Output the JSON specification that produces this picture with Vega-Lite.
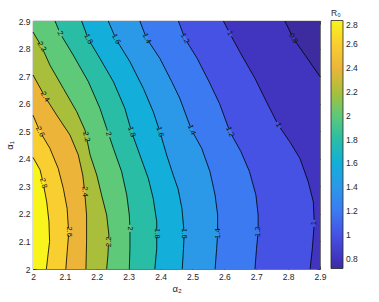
{
  "$schema": "https://vega.github.io/schema/vega-lite/v6.json",
  "width": 287,
  "height": 248,
  "autosize": {"type": "none"},
  "padding": {"left": 33, "top": 21, "right": 59, "bottom": 33},
  "background": "white",
  "config": {
    "font": "Liberation Sans",
    "view": {"stroke": "#262626", "strokeWidth": 0.8},
    "axis": {
      "labelFont": "Liberation Sans", "labelFontSize": 8.5, "labelColor": "#262626",
      "tickColor": "#262626", "tickSize": -3, "tickWidth": 0.7, "labelPadding": 6,
      "domain": false, "grid": false, "labelFlush": false, "labelOverlap": false, "labelBound": false,
      "titleFont": "Liberation Sans", "titleFontSize": 9.5, "titleFontWeight": "normal", "titleColor": "#262626"
    }
  },
  "datasets": {
    "contours": [
      {"level": 0.716, "a2": 2.9, "a1": 2.0, "edge": 1},
      {"level": 0.716, "a2": 2.9, "a1": 2.9, "edge": 1},
      {"level": 0.8, "a2": 2.9, "a1": 2.0, "edge": 1},
      {"level": 0.8, "a2": 2.9, "a1": 2.698},
      {"level": 0.8, "a2": 2.853, "a1": 2.7765},
      {"level": 0.8, "a2": 2.816, "a1": 2.837},
      {"level": 0.8, "a2": 2.79, "a1": 2.9},
      {"level": 1.0, "a2": 2.869, "a1": 2.0},
      {"level": 1.0, "a2": 2.876, "a1": 2.075},
      {"level": 1.0, "a2": 2.882, "a1": 2.166},
      {"level": 1.0, "a2": 2.879, "a1": 2.244},
      {"level": 1.0, "a2": 2.863, "a1": 2.317},
      {"level": 1.0, "a2": 2.837, "a1": 2.4015},
      {"level": 1.0, "a2": 2.805, "a1": 2.462},
      {"level": 1.0, "a2": 2.769, "a1": 2.5225},
      {"level": 1.0, "a2": 2.732, "a1": 2.607},
      {"level": 1.0, "a2": 2.696, "a1": 2.692},
      {"level": 1.0, "a2": 2.654, "a1": 2.7765},
      {"level": 1.0, "a2": 2.617, "a1": 2.855},
      {"level": 1.0, "a2": 2.597, "a1": 2.9},
      {"level": 1.2, "a2": 2.696, "a1": 2.0},
      {"level": 1.2, "a2": 2.701, "a1": 2.075},
      {"level": 1.2, "a2": 2.706, "a1": 2.1355},
      {"level": 1.2, "a2": 2.706, "a1": 2.196},
      {"level": 1.2, "a2": 2.699, "a1": 2.2685},
      {"level": 1.2, "a2": 2.679, "a1": 2.353},
      {"level": 1.2, "a2": 2.652, "a1": 2.426},
      {"level": 1.2, "a2": 2.6175, "a1": 2.498},
      {"level": 1.2, "a2": 2.585, "a1": 2.6},
      {"level": 1.2, "a2": 2.552, "a1": 2.68},
      {"level": 1.2, "a2": 2.515, "a1": 2.764},
      {"level": 1.2, "a2": 2.476, "a1": 2.837},
      {"level": 1.2, "a2": 2.456, "a1": 2.9},
      {"level": 1.4, "a2": 2.571, "a1": 2.0},
      {"level": 1.4, "a2": 2.576, "a1": 2.075},
      {"level": 1.4, "a2": 2.579, "a1": 2.129},
      {"level": 1.4, "a2": 2.579, "a1": 2.196},
      {"level": 1.4, "a2": 2.571, "a1": 2.2685},
      {"level": 1.4, "a2": 2.555, "a1": 2.353},
      {"level": 1.4, "a2": 2.529, "a1": 2.438},
      {"level": 1.4, "a2": 2.497, "a1": 2.505},
      {"level": 1.4, "a2": 2.46, "a1": 2.62},
      {"level": 1.4, "a2": 2.435, "a1": 2.68},
      {"level": 1.4, "a2": 2.398, "a1": 2.764},
      {"level": 1.4, "a2": 2.356, "a1": 2.837},
      {"level": 1.4, "a2": 2.335, "a1": 2.9},
      {"level": 1.6, "a2": 2.468, "a1": 2.0},
      {"level": 1.6, "a2": 2.472, "a1": 2.075},
      {"level": 1.6, "a2": 2.474, "a1": 2.13},
      {"level": 1.6, "a2": 2.467, "a1": 2.22},
      {"level": 1.6, "a2": 2.455, "a1": 2.29},
      {"level": 1.6, "a2": 2.44, "a1": 2.34},
      {"level": 1.6, "a2": 2.419, "a1": 2.414},
      {"level": 1.6, "a2": 2.398, "a1": 2.498},
      {"level": 1.6, "a2": 2.377, "a1": 2.571},
      {"level": 1.6, "a2": 2.346, "a1": 2.6555},
      {"level": 1.6, "a2": 2.304, "a1": 2.752},
      {"level": 1.6, "a2": 2.26, "a1": 2.8345},
      {"level": 1.6, "a2": 2.236, "a1": 2.9},
      {"level": 1.8, "a2": 2.382, "a1": 2.0},
      {"level": 1.8, "a2": 2.388, "a1": 2.075},
      {"level": 1.8, "a2": 2.388, "a1": 2.172},
      {"level": 1.8, "a2": 2.377, "a1": 2.256},
      {"level": 1.8, "a2": 2.3615, "a1": 2.329},
      {"level": 1.8, "a2": 2.335, "a1": 2.414},
      {"level": 1.8, "a2": 2.309, "a1": 2.498},
      {"level": 1.8, "a2": 2.288, "a1": 2.583},
      {"level": 1.8, "a2": 2.252, "a1": 2.68},
      {"level": 1.8, "a2": 2.21, "a1": 2.764},
      {"level": 1.8, "a2": 2.1735, "a1": 2.8345},
      {"level": 1.8, "a2": 2.1525, "a1": 2.9},
      {"level": 2.0, "a2": 2.302, "a1": 2.0},
      {"level": 2.0, "a2": 2.304, "a1": 2.075},
      {"level": 2.0, "a2": 2.304, "a1": 2.1475},
      {"level": 2.0, "a2": 2.302, "a1": 2.196},
      {"level": 2.0, "a2": 2.294, "a1": 2.2685},
      {"level": 2.0, "a2": 2.278, "a1": 2.353},
      {"level": 2.0, "a2": 2.252, "a1": 2.438},
      {"level": 2.0, "a2": 2.231, "a1": 2.51},
      {"level": 2.0, "a2": 2.21, "a1": 2.583},
      {"level": 2.0, "a2": 2.1735, "a1": 2.68},
      {"level": 2.0, "a2": 2.126, "a1": 2.7765},
      {"level": 2.0, "a2": 2.085, "a1": 2.855},
      {"level": 2.0, "a2": 2.069, "a1": 2.9},
      {"level": 2.2, "a2": 2.231, "a1": 2.0},
      {"level": 2.2, "a2": 2.235, "a1": 2.051},
      {"level": 2.2, "a2": 2.238, "a1": 2.123},
      {"level": 2.2, "a2": 2.231, "a1": 2.196},
      {"level": 2.2, "a2": 2.215, "a1": 2.2685},
      {"level": 2.2, "a2": 2.2, "a1": 2.341},
      {"level": 2.2, "a2": 2.179, "a1": 2.414},
      {"level": 2.2, "a2": 2.163, "a1": 2.504},
      {"level": 2.2, "a2": 2.137, "a1": 2.571},
      {"level": 2.2, "a2": 2.095, "a1": 2.6555},
      {"level": 2.2, "a2": 2.053, "a1": 2.74},
      {"level": 2.2, "a2": 2.027, "a1": 2.807},
      {"level": 2.2, "a2": 2.0, "a1": 2.86},
      {"level": 2.4, "a2": 2.166, "a1": 2.0},
      {"level": 2.4, "a2": 2.168, "a1": 2.099},
      {"level": 2.4, "a2": 2.168, "a1": 2.196},
      {"level": 2.4, "a2": 2.162, "a1": 2.281},
      {"level": 2.4, "a2": 2.156, "a1": 2.341},
      {"level": 2.4, "a2": 2.142, "a1": 2.414},
      {"level": 2.4, "a2": 2.116, "a1": 2.486},
      {"level": 2.4, "a2": 2.074, "a1": 2.559},
      {"level": 2.4, "a2": 2.0376, "a1": 2.625},
      {"level": 2.4, "a2": 2.0, "a1": 2.704},
      {"level": 2.6, "a2": 2.103, "a1": 2.0},
      {"level": 2.6, "a2": 2.107, "a1": 2.06},
      {"level": 2.6, "a2": 2.112, "a1": 2.13},
      {"level": 2.6, "a2": 2.107, "a1": 2.22},
      {"level": 2.6, "a2": 2.095, "a1": 2.293},
      {"level": 2.6, "a2": 2.079, "a1": 2.365},
      {"level": 2.6, "a2": 2.053, "a1": 2.438},
      {"level": 2.6, "a2": 2.022, "a1": 2.498},
      {"level": 2.6, "a2": 2.0, "a1": 2.558},
      {"level": 2.8, "a2": 2.042, "a1": 2.0},
      {"level": 2.8, "a2": 2.047, "a1": 2.051},
      {"level": 2.8, "a2": 2.052, "a1": 2.1},
      {"level": 2.8, "a2": 2.05, "a1": 2.172},
      {"level": 2.8, "a2": 2.043, "a1": 2.244},
      {"level": 2.8, "a2": 2.032, "a1": 2.311},
      {"level": 2.8, "a2": 2.022, "a1": 2.36},
      {"level": 2.8, "a2": 2.0, "a1": 2.405}
    ],
    "labels": [
      {"text": "2.2", "level": 2.2, "a2": 2.027, "a1": 2.807, "angle": 59},
      {"text": "2", "level": 2.0, "a2": 2.085, "a1": 2.855, "angle": 62},
      {"text": "1.8", "level": 1.8, "a2": 2.1735, "a1": 2.8345, "angle": 64},
      {"text": "1.6", "level": 1.6, "a2": 2.26, "a1": 2.8345, "angle": 62},
      {"text": "1.4", "level": 1.4, "a2": 2.356, "a1": 2.837, "angle": 65},
      {"text": "1.2", "level": 1.2, "a2": 2.476, "a1": 2.837, "angle": 62},
      {"text": "1", "level": 1.0, "a2": 2.617, "a1": 2.855, "angle": 62},
      {"text": "0.8", "level": 0.8, "a2": 2.816, "a1": 2.837, "angle": 58},
      {"text": "2.4", "level": 2.4, "a2": 2.0376, "a1": 2.625, "angle": 59},
      {"text": "2.6", "level": 2.6, "a2": 2.022, "a1": 2.498, "angle": 62},
      {"text": "2.2", "level": 2.2, "a2": 2.167, "a1": 2.48, "angle": 76},
      {"text": "2", "level": 2.0, "a2": 2.236, "a1": 2.49, "angle": 72},
      {"text": "1.8", "level": 1.8, "a2": 2.309, "a1": 2.498, "angle": 72},
      {"text": "1.6", "level": 1.6, "a2": 2.398, "a1": 2.498, "angle": 72},
      {"text": "1.4", "level": 1.4, "a2": 2.497, "a1": 2.505, "angle": 68},
      {"text": "1.2", "level": 1.2, "a2": 2.6175, "a1": 2.498, "angle": 68},
      {"text": "1", "level": 1.0, "a2": 2.769, "a1": 2.5225, "angle": 60},
      {"text": "2.8", "level": 2.8, "a2": 2.032, "a1": 2.311, "angle": 75},
      {"text": "2.4", "level": 2.4, "a2": 2.162, "a1": 2.281, "angle": 88},
      {"text": "2.6", "level": 2.6, "a2": 2.112, "a1": 2.1355, "angle": 90},
      {"text": "2.2", "level": 2.2, "a2": 2.238, "a1": 2.099, "angle": -90},
      {"text": "2", "level": 2.0, "a2": 2.304, "a1": 2.1475, "angle": 90},
      {"text": "1.8", "level": 1.8, "a2": 2.388, "a1": 2.129, "angle": 90},
      {"text": "1.6", "level": 1.6, "a2": 2.474, "a1": 2.129, "angle": 90},
      {"text": "1.4", "level": 1.4, "a2": 2.579, "a1": 2.129, "angle": -90},
      {"text": "1.2", "level": 1.2, "a2": 2.706, "a1": 2.1355, "angle": -90},
      {"text": "1", "level": 1.0, "a2": 2.882, "a1": 2.166, "angle": -90}
    ]
  },
  "resolve": {"axis": {"x": "independent", "y": "independent"}},
  "layer": [
    {
      "data": {"name": "contours"},
      "mark": {"type": "area", "orient": "horizontal", "interpolate": "linear"},
      "encoding": {
        "y": {"field": "a1", "type": "quantitative", "scale": {"domain": [2, 2.9], "nice": false, "zero": false},
              "axis": {"orient": "left", "title": "α₁", "values": [2, 2.1, 2.2, 2.3, 2.4, 2.5, 2.6, 2.7, 2.8, 2.9], "format": ".1~f", "titlePadding": 4}},
        "x": {"field": "a2", "type": "quantitative", "stack": null, "scale": {"domain": [2, 2.9], "nice": false, "zero": false},
              "axis": {"orient": "bottom", "title": "α₂", "values": [2, 2.1, 2.2, 2.3, 2.4, 2.5, 2.6, 2.7, 2.8, 2.9], "format": ".1~f", "titlePadding": 3}},
        "x2": {"datum": 2},
        "detail": {"field": "level", "type": "nominal"},
        "fill": {"field": "level", "type": "quantitative",
          "scale": {"domain": [0.716, 0.8, 1.0, 1.2, 1.4, 1.6, 1.8, 2.0, 2.2, 2.4, 2.6, 2.8],
                    "range": ["#3D2C9F", "#4134BE", "#4652E3", "#3C7AF2", "#2B98E8", "#13AED9", "#2ABDA6", "#5DC979", "#A9BF3B", "#ECB53A", "#F9CE30", "#F8F41C"],
                    "interpolate": "rgb"},
          "legend": {"orient": "none", "legendX": 298, "legendY": -12, "direction": "vertical",
                     "gradientLength": 248, "gradientThickness": 12,
                     "values": [0.8, 1, 1.2, 1.4, 1.6, 1.8, 2, 2.2, 2.4, 2.6, 2.8], "format": ".1~f",
                     "title": "R₀", "titleFontSize": 8.5, "titleFontWeight": "normal", "titlePadding": 3,
                     "titleColor": "#262626", "labelFontSize": 8.5, "labelOffset": 3, "labelOverlap": false,
                     "labelColor": "#262626", "gradientStrokeColor": "#262626", "gradientStrokeWidth": 0.8}}
      }
    },
    {
      "data": {"name": "contours"},
      "transform": [{"filter": "!datum.edge"}],
      "mark": {"type": "line", "color": "#000000", "strokeWidth": 0.8, "interpolate": "linear"},
      "encoding": {
        "x": {"field": "a2", "type": "quantitative", "axis": {"orient": "top", "labels": false, "title": null, "values": [2, 2.1, 2.2, 2.3, 2.4, 2.5, 2.6, 2.7, 2.8, 2.9]}},
        "y": {"field": "a1", "type": "quantitative", "axis": {"orient": "right", "labels": false, "title": null, "values": [2, 2.1, 2.2, 2.3, 2.4, 2.5, 2.6, 2.7, 2.8, 2.9]}},
        "detail": {"field": "level", "type": "nominal"},
        "order": {"field": "a1", "type": "quantitative"}
      }
    },
    {
      "data": {"name": "labels"},
      "mark": {"type": "point", "shape": "M-1,-0.38L1,-0.38L1,0.38L-1,0.38Z", "filled": true, "size": 49, "strokeWidth": 0, "opacity": 1},
      "encoding": {
        "x": {"field": "a2", "type": "quantitative", "axis": null},
        "y": {"field": "a1", "type": "quantitative", "axis": null},
        "angle": {"field": "angle", "type": "quantitative", "scale": null},
        "fill": {"field": "level", "type": "quantitative", "legend": null,
          "scale": {"domain": [0.716, 0.8, 1.0, 1.2, 1.4, 1.6, 1.8, 2.0, 2.2, 2.4, 2.6, 2.8],
                    "range": ["#3D2C9F", "#4134BE", "#4652E3", "#3C7AF2", "#2B98E8", "#13AED9", "#2ABDA6", "#5DC979", "#A9BF3B", "#ECB53A", "#F9CE30", "#F8F41C"],
                    "interpolate": "rgb"}}
      }
    },
    {
      "data": {"name": "labels"},
      "mark": {"type": "text", "fontSize": 7.5, "font": "Liberation Sans", "color": "#111111", "align": "center", "baseline": "middle"},
      "encoding": {
        "x": {"field": "a2", "type": "quantitative", "axis": null},
        "y": {"field": "a1", "type": "quantitative", "axis": null},
        "text": {"field": "text", "type": "nominal"},
        "angle": {"field": "angle", "type": "quantitative", "scale": null}
      }
    }
  ]
}
